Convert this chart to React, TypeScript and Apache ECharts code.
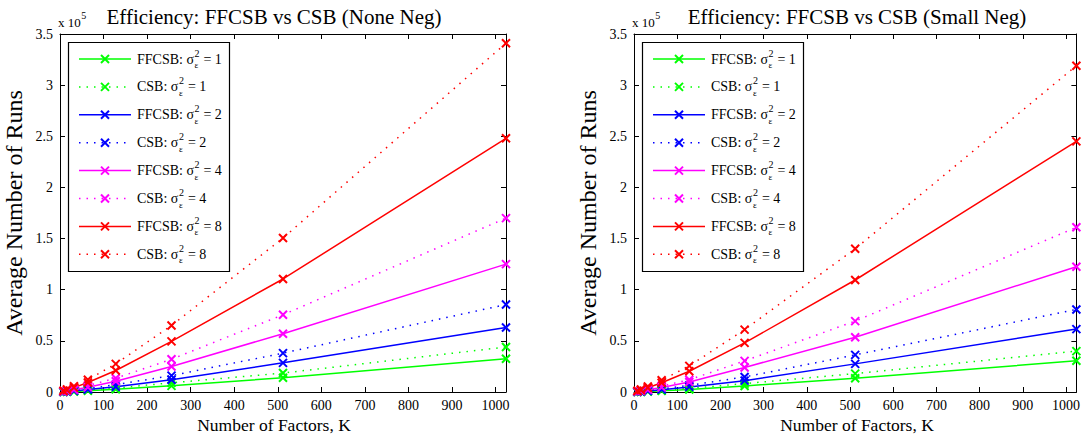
import React, { useEffect, useRef } from "react";
import * as echarts from "echarts";

// ---- data ----
const K = [8, 16, 32, 64, 128, 256, 512, 1024];

// Left panel: None Neg
const noneFF1 = [120, 260, 560, 1200, 2600, 6000, 14000, 32500];
const noneCSB1 = [150, 330, 750, 1700, 3800, 9000, 18500, 44000];
const noneFF2 = [250, 520, 1100, 2400, 5200, 12000, 28500, 63000];
const noneCSB2 = [300, 680, 1500, 3300, 7200, 16000, 38000, 85500];
const noneFF4 = [480, 1000, 2200, 4700, 10500, 25000, 57000, 125000];
const noneCSB4 = [600, 1300, 2900, 6300, 13500, 32000, 75500, 170000];
const noneFF8 = [950, 2000, 4300, 9300, 21000, 49500, 110500, 248000];
const noneCSB8 = [1200, 2600, 5600, 12000, 27500, 65000, 150500, 341000];

// Right panel: Small Neg
const smallFF1 = [110, 240, 520, 1100, 2500, 5900, 13400, 30500];
const smallCSB1 = [140, 310, 700, 1500, 3500, 8200, 18000, 40000];
const smallFF2 = [230, 500, 1050, 2300, 5000, 11100, 27500, 61500];
const smallCSB2 = [290, 640, 1400, 3000, 6500, 14700, 36300, 80700];
const smallFF4 = [450, 950, 2100, 4500, 9800, 24000, 53600, 122500];
const smallCSB4 = [550, 1200, 2700, 5800, 12000, 30400, 69300, 161000];
const smallFF8 = [900, 1900, 4100, 9000, 20300, 48000, 109500, 245000];
const smallCSB8 = [1100, 2400, 5300, 11500, 25500, 61000, 140000, 319000];

const sigmaLevels = ["1", "2", "4", "8"];
const seriesColors = ["#00ff00", "#0000ff", "#ff00ff", "#ff0000"];
const titles = [
  "Efficiency: FFCSB vs CSB (None Neg)",
  "Efficiency: FFCSB vs CSB (Small Neg)",
];
const xAxisName = "Number of Factors, K";
const yAxisName = "Average Number of Runs";
const X_MAX = 1024;
const X_INTERVAL = 100;
const Y_MAX = 350000;
const Y_INTERVAL = 50000;

const panels = [
  [noneFF1, noneCSB1, noneFF2, noneCSB2, noneFF4, noneCSB4, noneFF8, noneCSB8],
  [smallFF1, smallCSB1, smallFF2, smallCSB2, smallFF4, smallCSB4, smallFF8, smallCSB8],
];

const FONT = "Liberation Serif";
const X_PATH = "path://M0,0L10,10M10,0L0,10";
const DOT: number[] = [1.5, 6];

const GRID_LEFT = [60, 634];
const GRID_W = 446;
const GRID_TOP = 34;
const GRID_H = 358;
const TEXT_CENTER = [274, 857];

export default function App() {
  const ref = useRef<HTMLDivElement>(null);

  useEffect(() => {
    if (!ref.current) return;
    const chart = echarts.init(ref.current, null, { renderer: "svg" });

    const canvas = document.createElement("canvas");
    const ctx = canvas.getContext("2d")!;
    const tw = (s: string, size: number) => {
      ctx.font = `${size}px 'Liberation Serif'`;
      return ctx.measureText(s).width;
    };
    const txt = (x: number, y: number, text: string, size: number, align = "left") => ({
      type: "text",
      x,
      y,
      style: {
        text,
        fontFamily: FONT,
        fontSize: size,
        fill: "#000",
        textAlign: align,
        textVerticalAlign: "middle",
      },
    });

    const grids = GRID_LEFT.map((l) => ({
      left: l,
      top: GRID_TOP,
      width: GRID_W,
      height: GRID_H,
    }));

    const xAxes: any[] = [];
    const yAxes: any[] = [];
    GRID_LEFT.forEach((_, g) => {
      const common = {
        gridIndex: g,
        type: "value",
        min: 0,
        max: X_MAX,
        interval: X_INTERVAL,
        splitLine: { show: false },
        axisLine: { show: true, onZero: false, lineStyle: { color: "#000", width: 1 } },
        axisTick: { show: true, inside: true, length: 5, lineStyle: { color: "#000" } },
      };
      xAxes.push({
        ...common,
        position: "bottom",
        axisLabel: {
          show: true,
          margin: 6,
          fontFamily: FONT,
          fontSize: 14,
          color: "#000",
          showMaxLabel: false,
          formatter: (v: number) => String(v),
        },
      });
      xAxes.push({ ...common, position: "top", axisLabel: { show: false } });
      const ycommon = {
        gridIndex: g,
        type: "value",
        min: 0,
        max: Y_MAX,
        interval: Y_INTERVAL,
        splitLine: { show: false },
        axisLine: { show: true, onZero: false, lineStyle: { color: "#000", width: 1 } },
        axisTick: { show: true, inside: true, length: 5, lineStyle: { color: "#000" } },
      };
      yAxes.push({
        ...ycommon,
        position: "left",
        name: yAxisName,
        nameLocation: "middle",
        nameGap: 34,
        nameTextStyle: { fontFamily: FONT, fontSize: 24, color: "#000" },
        axisLabel: {
          show: true,
          margin: 7,
          fontFamily: FONT,
          fontSize: 14,
          color: "#000",
          formatter: (v: number) => String(+(v / 100000).toFixed(2)),
        },
      });
      yAxes.push({ ...ycommon, position: "right", axisLabel: { show: false } });
    });

    const series: any[] = [];
    panels.forEach((arrs, g) => {
      arrs.forEach((vals, i) => {
        const color = seriesColors[Math.floor(i / 2)];
        const dotted = i % 2 === 1;
        series.push({
          type: "line",
          name: `${dotted ? "CSB" : "FFCSB"} ${sigmaLevels[Math.floor(i / 2)]} p${g}`,
          xAxisIndex: g * 2,
          yAxisIndex: g * 2,
          data: K.map((k, j) => [k, vals[j]]),
          symbol: X_PATH,
          symbolSize: 8,
          showAllSymbol: true,
          silent: true,
          clip: false,
          lineStyle: { color, width: 1.5, type: dotted ? DOT : "solid", cap: "butt" },
          itemStyle: { color, borderColor: color, borderWidth: 2 },
          emphasis: { disabled: true },
          z: 2 + (dotted ? 0 : 1),
        });
      });
    });

    const graphics: any[] = [];
    GRID_LEFT.forEach((L, g) => {
      const cx = TEXT_CENTER[g];
      graphics.push(txt(cx, 17, titles[g], 21, "center"));
      graphics.push(txt(cx, 425, xAxisName, 17.5, "center"));
      // x 10^5
      const xw = tw("x 10", 13);
      graphics.push(txt(L - 2, 22, "x 10", 13));
      graphics.push(txt(L - 2 + xw + 0.5, 15, "5", 10));
      // legend box
      const boxChildren: any[] = [];
      boxChildren.push({
        type: "rect",
        shape: { x: L + 8.5, y: 42.5, width: 161, height: 229 },
        style: { fill: "#fff", stroke: "#000", lineWidth: 1.2 },
      });
      for (let i = 0; i < 8; i++) {
        const y = 59 + i * 27.9;
        const color = seriesColors[Math.floor(i / 2)];
        const dotted = i % 2 === 1;
        boxChildren.push({
          type: "line",
          shape: { x1: L + 19, y1: y, x2: L + 71, y2: y },
          style: { stroke: color, lineWidth: 1.5, lineDash: dotted ? DOT : null },
        });
        const mx = L + 45;
        boxChildren.push({
          type: "line",
          shape: { x1: mx - 4, y1: y - 4, x2: mx + 4, y2: y + 4 },
          style: { stroke: color, lineWidth: 2 },
        });
        boxChildren.push({
          type: "line",
          shape: { x1: mx + 4, y1: y - 4, x2: mx - 4, y2: y + 4 },
          style: { stroke: color, lineWidth: 2 },
        });
        const prefix = `${dotted ? "CSB" : "FFCSB"}: σ`;
        const tx = L + 77;
        const pw = tw(prefix, 14);
        boxChildren.push(txt(tx, y, prefix, 14));
        boxChildren.push(txt(tx + pw + 0.5, y - 6, "2", 10));
        boxChildren.push(txt(tx + pw + 0.5, y + 6, "ε", 9));
        const sw = Math.max(tw("2", 10), tw("ε", 9));
        boxChildren.push(txt(tx + pw + sw + 1, y, ` = ${sigmaLevels[Math.floor(i / 2)]}`, 14));
      }
      graphics.push({ type: "group", z: 100, children: boxChildren });
    });

    chart.setOption({
      animation: false,
      backgroundColor: "#fff",
      textStyle: { fontFamily: FONT },
      grid: grids,
      xAxis: xAxes,
      yAxis: yAxes,
      series,
      graphic: graphics,
    });

    return () => chart.dispose();
  }, []);

  return (
    <div
      ref={ref}
      style={{ position: "absolute", left: 0, top: 0, width: 1083, height: 435 }}
    />
  );
}
